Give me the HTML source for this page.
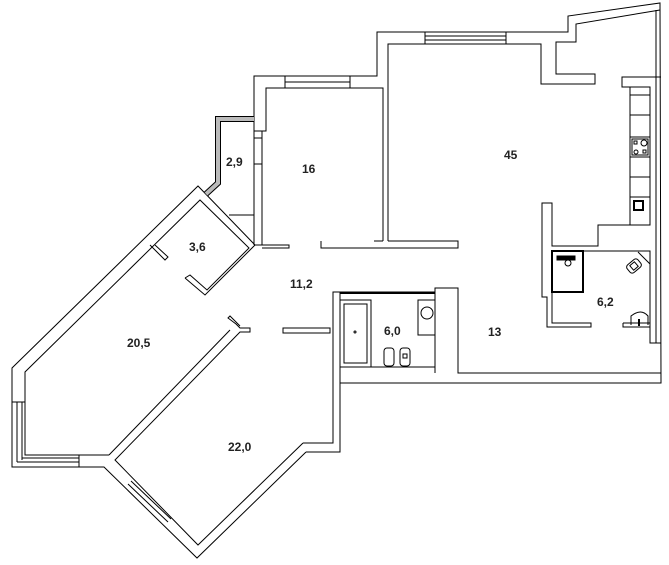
<!DOCTYPE html>
<html><head><meta charset="utf-8"><style>
html,body{margin:0;padding:0;background:#fff}
svg{display:block}
text{font-family:"Liberation Sans",Arial,sans-serif;font-weight:bold;font-size:12px;fill:#222}
</style></head><body>
<svg width="669" height="565" viewBox="0 0 669 565" xmlns="http://www.w3.org/2000/svg">
<g fill="none" stroke="#000" stroke-width="1">
<polyline points="254,245 254,76 377,76 377,32 568,32 568,16 660,3 661,383 340,383"/>
<polyline points="262,245 262,131 266,131 266,88 383,88 383,241"/>
<line x1="254" y1="131" x2="266" y2="131"/><line x1="254" y1="138" x2="262" y2="138"/><line x1="254" y1="164" x2="262" y2="164"/>
<line x1="285" y1="76" x2="285" y2="88"/><line x1="350" y1="76" x2="350" y2="88"/>
<line x1="285" y1="82" x2="350" y2="82"/>
<polyline points="388,241 388,44 541,44 541,84 595,84 595,74 556,74 556,42 576,42 576,24 660,10"/>
<line x1="425" y1="32" x2="425" y2="44"/><line x1="506" y1="32" x2="506" y2="44"/>
<line x1="425" y1="36" x2="506" y2="36"/><line x1="425" y1="40" x2="506" y2="40"/>
<polyline points="661,77 622,77 622,87 630,87"/>
<rect x="630" y="87" width="20" height="138"/>
<line x1="630" y1="95" x2="650" y2="95"/><line x1="630" y1="115" x2="650" y2="115"/>
<line x1="630" y1="177" x2="650" y2="177"/><line x1="630" y1="197" x2="650" y2="197"/>
<rect x="630" y="137" width="20" height="20"/>
<rect x="632" y="139" width="16" height="16"/>
<rect x="634" y="141" width="3" height="3"/><circle cx="644" cy="143" r="3"/>
<circle cx="636" cy="152" r="2"/><rect x="643" y="150" width="3" height="3"/>
<rect x="634" y="201" width="9" height="9" stroke-width="2"/>
<polyline points="650,225 598,225 598,246 552,246 552,203 542,203 542,297 547,297 547,327 591,327 591,323 552,323 552,251 650,251 650,343 656,343 656,10"/>
<polyline points="623,323 623,327 650,327"/><line x1="623" y1="323" x2="650" y2="323"/>
<line x1="650" y1="343" x2="661" y2="343"/>
<rect x="552" y="251" width="31" height="41" stroke-width="2"/>
<rect x="557" y="256" width="18" height="4" fill="#000"/>
<circle cx="568" cy="263" r="3"/>
<g transform="translate(634,266) rotate(-40)"><rect x="-7" y="-5" width="14" height="10" rx="3"/><rect x="-3" y="-3" width="6" height="6"/></g>
<line x1="638" y1="252" x2="650" y2="264"/>
<path d="M631,325 L631,316 Q641,308 648,316 L648,325"/><line x1="639" y1="319" x2="639" y2="326" stroke-width="2"/>
<polyline points="262,245 289,245 289,248 262,248"/>
<polyline points="321,241 321,248 458,248 458,241 388,241"/><line x1="374" y1="241" x2="383" y2="241"/>
<polyline points="435,373 435,288 458,288 458,373 661,373"/>
<polyline points="340,383 340,367 435,367"/>
<rect x="340" y="292" width="95" height="75"/>
<line x1="340" y1="293" x2="435" y2="293" stroke-width="2"/>
<rect x="340" y="300" width="31" height="67"/>
<rect x="344" y="304" width="23" height="59"/><circle cx="355" cy="332" r="1"/>
<rect x="418" y="300" width="17" height="35"/><circle cx="427" cy="313" r="6"/>
<rect x="384" y="348" width="10" height="18" rx="3"/><rect x="400" y="348" width="10" height="18" rx="3"/>
<rect x="403" y="354" width="4" height="4"/>
<polyline points="340,292 333,292 333,443 303,443"/>
<polyline points="340,383 340,452 306,452"/>
<rect x="283" y="328" width="47" height="5"/>
<polyline points="303,443 198,545 115,460 240,332 250,332 250,328 240,328 236,324 228,318 230,316 240,326"/>
<polyline points="306,452 197,558 104,467 79,467"/>
<polyline points="109,455 230,330"/>
<line x1="128" y1="484" x2="168" y2="522"/><line x1="131" y1="481" x2="171" y2="519"/>
<line x1="109" y1="455" x2="79" y2="455"/><line x1="79" y1="455" x2="79" y2="467"/>
<polyline points="79,467 12,467 12,368 198,186 255,245 205,295 185,278"/>
<polyline points="79,455 25,455 25,372 200,200 249,248 207,290 190,275 185,278"/>
<line x1="17" y1="402" x2="17" y2="462"/><line x1="22" y1="402" x2="22" y2="460"/>
<line x1="17" y1="462" x2="79" y2="462"/><line x1="22" y1="458" x2="79" y2="458"/>
<line x1="12" y1="402" x2="25" y2="402"/>
<polyline points="150,245 155,250 165,260 168,257 155,245"/>
<polyline points="254,119 218,119 218,183 206,194" stroke="#000" stroke-width="6"/>
<polyline points="254,119 218,119 218,183 206,194" stroke="#bbb" stroke-width="4"/>
<line x1="229" y1="215" x2="254" y2="215"/>
<line x1="254" y1="245" x2="262" y2="245"/>
</g>
<text x="302" y="173">16</text>
<text x="504" y="159">45</text>
<text x="226" y="166">2,9</text>
<text x="189" y="251">3,6</text>
<text x="290" y="288">11,2</text>
<text x="127" y="347">20,5</text>
<text x="384" y="335">6,0</text>
<text x="488" y="336">13</text>
<text x="597" y="306">6,2</text>
<text x="228" y="451">22,0</text>
</svg>
</body></html>
